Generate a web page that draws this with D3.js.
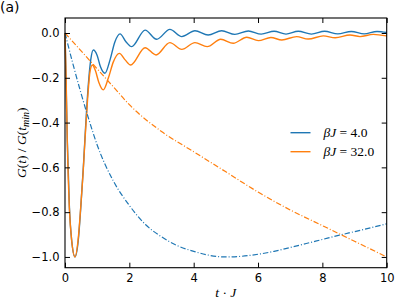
<!DOCTYPE html>
<html>
<head>
<meta charset="utf-8">
<script src="https://cdn.jsdelivr.net/npm/d3@7"></script>
<style>
  body { margin: 0; background: #fff; }
  svg { display: block; }
  .tick text { font-family: "DejaVu Sans", sans-serif; font-size: 11.5px; fill: #000; }
</style>
</head>
<body>
<div id="chart"></div>
<script>
// beta J = 4.0, solid
const blueT = [0, 0.07, 0.135, 0.21, 0.31, 0.41, 0.49, 0.57, 0.64, 0.72, 0.8, 0.88, 1.0, 1.1, 1.24, 1.4, 1.55, 1.71, 1.9, 2.07,
  2.49, 2.85, 3.26, 3.63, 4.04, 4.45, 4.87, 5.28, 5.7, 6.1, 6.5, 6.87, 7.25, 7.66, 8.07, 8.48, 8.9, 9.3, 9.7, 10];
const blueV = [0, -0.47, -0.77, -0.93, -1.0, -0.93, -0.78, -0.6, -0.42, -0.24, -0.12, -0.076, -0.1, -0.15, -0.18, -0.12, -0.04, -0.004, -0.04, -0.061,
  0.013, -0.028, 0.016, -0.016, 0.01, -0.009, 0.01, -0.006, 0.009, -0.005, 0.008, -0.005, 0.008, -0.005, 0.008, -0.004, 0.007, -0.004, 0.007, 0.002];

// beta J = 32.0, solid
const orangeT = [0, 0.035, 0.07, 0.135, 0.21, 0.31, 0.41, 0.49, 0.56, 0.62, 0.7, 0.78, 0.85, 0.95, 1.05, 1.19, 1.35, 1.5, 1.69, 1.87, 2.04,
  2.49, 2.83, 3.26, 3.63, 4.04, 4.42, 4.84, 5.23, 5.65, 6.01, 6.4, 6.74, 7.2, 7.56, 8.03, 8.4, 8.86, 9.17, 9.58, 10];
const orangeV = [0, -0.2, -0.48, -0.78, -0.93, -1.0, -0.92, -0.775, -0.63, -0.48, -0.3, -0.17, -0.143, -0.17, -0.22, -0.254, -0.2, -0.13, -0.091, -0.12, -0.143,
  -0.066, -0.098, -0.043, -0.073, -0.043, -0.061, -0.028, -0.046, -0.019, -0.034, -0.02, -0.031, -0.016, -0.027, -0.013, -0.021, -0.009, -0.016, -0.006, -0.013];

// dash-dot envelopes
const blueDashT = [0, 0.25, 0.5, 0.75, 1, 1.5, 2, 2.5, 3, 3.5, 4, 4.5, 5, 5.5, 6, 6.5, 7, 7.5, 8, 8.5, 9, 9.5, 10];
const blueDashV = [0, -0.14, -0.27, -0.39, -0.5, -0.66, -0.77, -0.855, -0.91, -0.95, -0.975, -0.993, -1.0, -0.997, -0.988, -0.975, -0.958, -0.94, -0.922, -0.904, -0.887, -0.87, -0.852];
const orangeDashT = [0, 0.5, 1, 1.5, 2, 3, 4, 5, 6, 7, 8, 9, 10];
const orangeDashV = [0, -0.08, -0.16, -0.24, -0.32, -0.44, -0.53, -0.62, -0.71, -0.79, -0.86, -0.93, -1.0];

const xTicks = [0, 2, 4, 6, 8, 10];
const yTicks = [-1.0, -0.8, -0.6, -0.4, -0.2, 0.0];
const legendLabels = ["4.0", "32.0"];

const blue = "#1f77b4", orange = "#ff7f0e";
const serif = "Liberation Serif, DejaVu Serif, serif";
const width = 407, height = 305;
const margin = { left: 65, right: 20.3, top: 18, bottom: 37.3 };

const svg = d3.select("#chart").append("svg")
  .attr("width", width).attr("height", height);

const x = d3.scaleLinear().domain([0, 10]).range([margin.left, width - margin.right]);
const y = d3.scaleLinear().domain([-1.048, 0.067]).range([height - margin.bottom, margin.top]);

const zip = (ts, vs) => ts.map((t, i) => [t, vs[i]]);
const line = d3.line().x(d => x(d[0])).y(d => y(d[1])).curve(d3.curveMonotoneX);

const plot = svg.append("g");
const series = [
  { data: zip(blueT, blueV), color: blue, dash: null },
  { data: zip(orangeT, orangeV), color: orange, dash: null },
  { data: zip(blueDashT, blueDashV), color: blue, dash: "5.5,2,1,2" },
  { data: zip(orangeDashT, orangeDashV), color: orange, dash: "5.5,2,1,2" },
];
series.forEach(s => {
  plot.append("path")
    .attr("d", line(s.data))
    .attr("fill", "none")
    .attr("stroke", s.color)
    .attr("stroke-width", s.dash ? 1.2 : 1.4)
    .attr("stroke-dasharray", s.dash);
});

// axes, ticks pointing inward on all four sides
const fmt = d3.format(".1f");
const tickLen = 5;
svg.append("g")
  .attr("transform", `translate(0,${height - margin.bottom})`)
  .call(d3.axisBottom(x).tickValues(xTicks).tickFormat(d3.format("d")).tickSizeInner(-tickLen).tickSizeOuter(0).tickPadding(6.5));
svg.append("g")
  .attr("transform", `translate(0,${margin.top})`)
  .call(d3.axisTop(x).tickValues(xTicks).tickFormat("").tickSizeInner(-tickLen).tickSizeOuter(0));
svg.append("g")
  .attr("transform", `translate(${margin.left},0)`)
  .call(d3.axisLeft(y).tickValues(yTicks).tickFormat(fmt).tickSizeInner(-tickLen).tickSizeOuter(0).tickPadding(5.5));
svg.append("g")
  .attr("transform", `translate(${width - margin.right},0)`)
  .call(d3.axisRight(y).tickValues(yTicks).tickFormat("").tickSizeInner(-tickLen).tickSizeOuter(0));
svg.selectAll(".domain").remove();
svg.selectAll(".tick line").attr("stroke", "#000").attr("stroke-width", 1);

svg.append("rect")
  .attr("x", margin.left).attr("y", margin.top)
  .attr("width", width - margin.left - margin.right)
  .attr("height", height - margin.top - margin.bottom)
  .attr("fill", "none").attr("stroke", "#000").attr("stroke-width", 1.1);

// labels
svg.append("text")
  .attr("x", 0).attr("y", 12)
  .attr("font-family", "DejaVu Sans, sans-serif").attr("font-size", 14)
  .text("(a)");

const xl = svg.append("text")
  .attr("font-family", serif)
  .attr("x", (margin.left + width - margin.right) / 2).attr("y", 297)
  .attr("text-anchor", "middle").attr("font-size", 13.5);
xl.append("tspan").attr("font-style", "italic").text("t");
xl.append("tspan").text(" · ");
xl.append("tspan").attr("font-style", "italic").text("J");

const yl = svg.append("text")
  .attr("font-family", serif)
  .attr("transform", `translate(26,${(margin.top + height - margin.bottom) / 2}) rotate(-90)`)
  .attr("text-anchor", "middle").attr("font-size", 13.5);
yl.append("tspan").attr("font-style", "italic").text("G");
yl.append("tspan").text("(");
yl.append("tspan").attr("font-style", "italic").text("t");
yl.append("tspan").text(") / ");
yl.append("tspan").attr("font-style", "italic").text("G");
yl.append("tspan").text("(");
yl.append("tspan").attr("font-style", "italic").text("t");
yl.append("tspan").attr("font-style", "italic").attr("font-size", 10).attr("dy", 3).text("min");
yl.append("tspan").attr("dy", -3).text(")");

// legend
const lg = svg.append("g");
[blue, orange].forEach((c, i) => {
  const ly = 132.7 + i * 19;
  lg.append("line")
    .attr("x1", 290.5).attr("x2", 310.5).attr("y1", ly).attr("y2", ly)
    .attr("stroke", c).attr("stroke-width", 1.4);
  const t = lg.append("text")
    .attr("font-family", serif)
    .attr("x", 323.5).attr("y", ly + 4.5).attr("font-size", 13.5);
  t.append("tspan").attr("font-style", "italic").text("βJ");
  t.append("tspan").text(" = " + legendLabels[i]);
});
</script>
</body>
</html>
